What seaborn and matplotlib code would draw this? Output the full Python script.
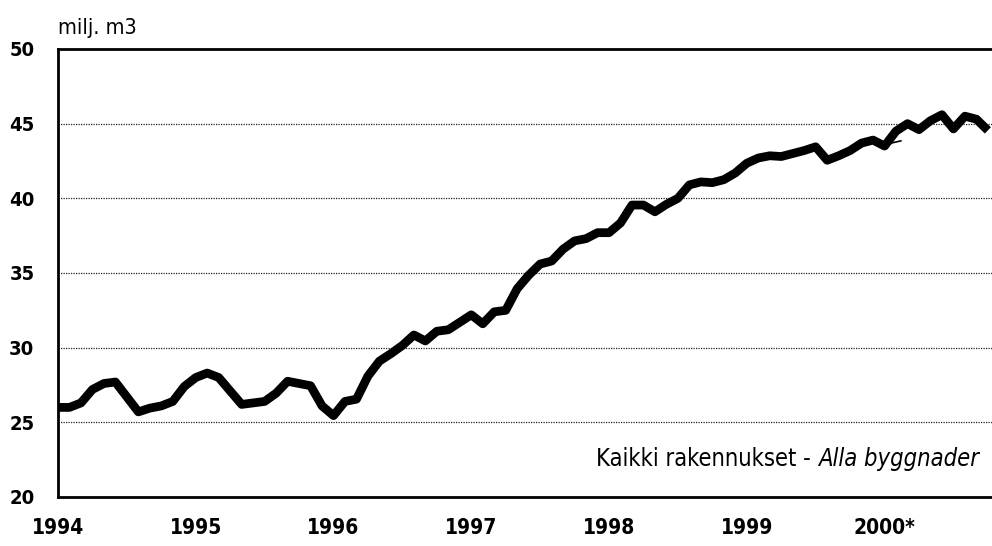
import numpy as np
import pandas as pd
import matplotlib
matplotlib.use("Agg")
import matplotlib.pyplot as plt
import seaborn as sns
from matplotlib import font_manager

# monthly values, Jan 1994 .. Oct 2000 (milj. m3)
vals_1994 = [26.0, 26.0, 26.3, 27.2, 27.6, 27.7, 26.7, 25.7, 25.95, 26.1, 26.4, 27.4]
vals_1995 = [28.0, 28.3, 28.0, 27.1, 26.2, 26.3, 26.4, 26.95, 27.75, 27.6, 27.45, 26.1]
vals_1996 = [25.45, 26.4, 26.55, 28.1, 29.1, 29.6, 30.15, 30.85, 30.45, 31.1, 31.2, 31.7]
vals_1997 = [32.2, 31.6, 32.4, 32.5, 33.95, 34.85, 35.6, 35.8, 36.6, 37.15, 37.3, 37.7]
vals_1998 = [37.7, 38.35, 39.55, 39.55, 39.1, 39.6, 40.0, 40.9, 41.1, 41.05, 41.25, 41.7]
vals_1999 = [42.35, 42.7, 42.85, 42.8, 43.0, 43.2, 43.45, 42.55, 42.85, 43.2, 43.7, 43.9]
vals_2000 = [43.5, 44.5, 45.0, 44.6, 45.2, 45.6, 44.65, 45.5, 45.3, 44.55]

values = vals_1994 + vals_1995 + vals_1996 + vals_1997 + vals_1998 + vals_1999 + vals_2000
years = [1994, 1995, 1996, 1997, 1998, 1999, 2000]
year_labels = ["1994", "1995", "1996", "1997", "1998", "1999", "2000*"]
yticks = [20, 25, 30, 35, 40, 45, 50]

# short thin trend stub at start of 2000
stub_x = [2000.0, 2000.12]
stub_y = [43.6, 43.85]

df = pd.DataFrame({"t": 1994 + np.arange(len(values)) / 12.0, "v": values})

sns.set_style("white")
fonts = font_manager.fontManager.ttflist
have = {f.name for f in fonts}
condensed = any(f.name == "DejaVu Sans" and f.stretch == "condensed" for f in fonts)
if "Liberation Sans Narrow" in have:
    plt.rcParams["font.family"] = ["Liberation Sans Narrow", "DejaVu Sans"]
    stretch = "normal"
else:
    plt.rcParams["font.family"] = ["DejaVu Sans"]
    stretch = "condensed" if condensed else "normal"
plt.rcParams["font.stretch"] = stretch
plt.rcParams["text.color"] = "black"
num_size = 15 if stretch == "condensed" else 13.5
txt_size = 17 if stretch == "condensed" else 14.5

fig = plt.figure(figsize=(9.92, 5.46), dpi=100)
ax = fig.add_axes([58 / 992, 1 - 497 / 546, 1 - 58 / 992, (497 - 49) / 546])

for g in [25, 30, 35, 40, 45]:
    ax.axhline(g, color="#222222", lw=0.9, ls=(0, (1, 1)), zorder=1)

sns.lineplot(data=df, x="t", y="v", ax=ax, color="black", lw=6.3,
             solid_joinstyle="round", solid_capstyle="butt", zorder=3, clip_on=False)
ax.plot(stub_x, stub_y, color="black", lw=1.2, zorder=2)

ax.set_xlim(1994, 2000.78)
ax.set_ylim(20, 50)
ax.set_xticks(years)
ax.set_xticklabels(year_labels)
ax.set_yticks(yticks)
ax.set_xlabel("")
ax.set_ylabel("")

for side in ["left", "bottom", "top"]:
    ax.spines[side].set_visible(True)
    ax.spines[side].set_color("black")
    ax.spines[side].set_linewidth(2)
ax.spines["right"].set_visible(False)

ax.tick_params(axis="x", direction="out", length=9, width=1.2, color="black",
               pad=6, labelsize=num_size, labelcolor="black")
ax.tick_params(axis="y", length=0, pad=17, labelsize=num_size - 0.5, labelcolor="black")
for lab in ax.get_xticklabels() + ax.get_yticklabels():
    lab.set_fontweight("bold")
    lab.set_fontstretch(stretch)

ax.text(0.0, 1.025, "milj. m3", transform=ax.transAxes, fontsize=15.5,
        ha="left", va="bottom", fontstretch=stretch)

it = ax.text(0.986, 0.069, "Alla byggnader", transform=ax.transAxes, fontsize=txt_size,
             style="italic", ha="right", va="baseline", fontstretch=stretch)
fig.canvas.draw()
bb = it.get_window_extent(fig.canvas.get_renderer())
x0 = ax.transAxes.inverted().transform((bb.x0, bb.y0))[0]
ax.text(x0, 0.069, "Kaikki rakennukset - ", transform=ax.transAxes, fontsize=txt_size,
        ha="right", va="baseline", fontstretch=stretch)

fig.savefig("out.png", dpi=100)
